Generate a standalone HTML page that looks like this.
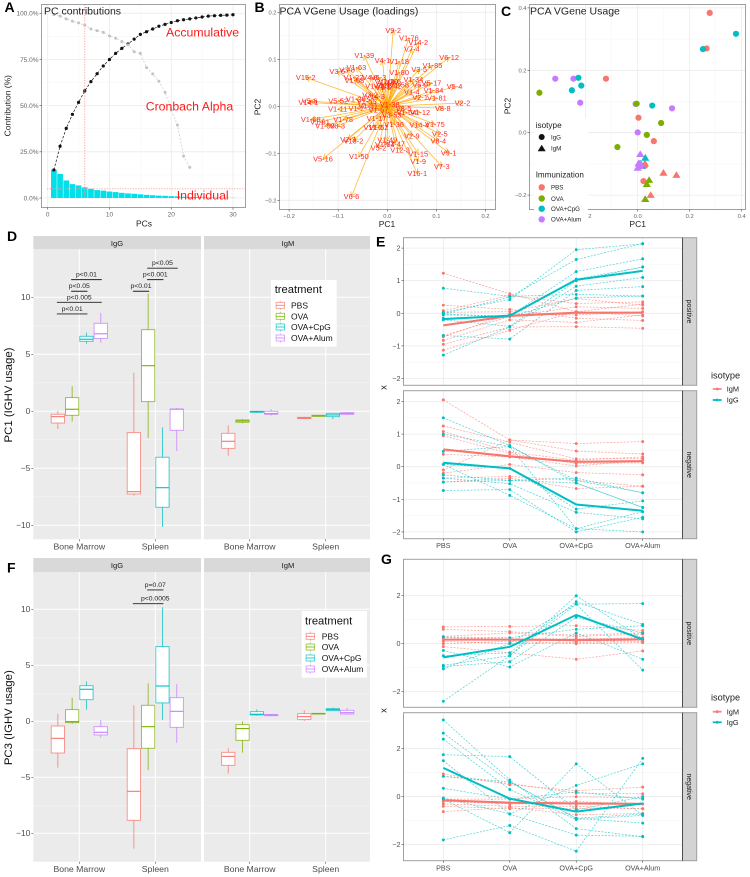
<!DOCTYPE html>
<html lang="en">
<head>
<meta charset="utf-8">
<title>PCA VGene usage figure</title>
<style>
html,body{margin:0;padding:0;background:#fff;width:750px;height:877px;overflow:hidden}
svg{display:block;filter:blur(.35px)}
text{font-family:"Liberation Sans",Arial,sans-serif}
</style>
</head>
<body>
<svg id="fig" xmlns="http://www.w3.org/2000/svg" width="750" height="877" viewBox="0 0 750 877">
<defs>
<marker id="arrow-head" markerWidth="6" markerHeight="6" refX="5" refY="3" orient="auto" markerUnits="userSpaceOnUse">
<path d="M0.5,0.5 L5,3 L0.5,5.5" fill="none" stroke="#FFA500" stroke-width=".7"/>
</marker>
</defs>

<!-- Panel A -->
<g id="panel-a">
<rect x="41.5" y="4.5" width="204" height="203" fill="#fff"/>
<g id="a-grid"></g>
<g id="a-marks"></g>
<rect x="41.5" y="4.5" width="204" height="203" fill="none" stroke="#a0a0a0" stroke-width="1"/>
<g id="a-axes"></g>
<text x="44" y="14.5" font-size="10.5" fill="#222">PC contributions</text>
<text x="166" y="36.5" font-size="12.3" fill="#ff1a1a">Accumulative</text>
<text x="145.7" y="110.5" font-size="12.3" fill="#ff1a1a">Cronbach Alpha</text>
<text x="176.7" y="199.5" font-size="12.3" fill="#ff1a1a">Individual</text>
<text transform="translate(10.5,105.7) rotate(-90)" font-size="8.5" text-anchor="middle" fill="#222">Contribution (%)</text>
<text x="144" y="226.5" font-size="8.5" text-anchor="middle" fill="#222">PCs</text>
</g>

<!-- Panel B -->
<g id="panel-b">
<rect x="279.5" y="4.5" width="216" height="205" fill="#fff"/>
<g id="b-grid"></g>
<g id="b-arrows"></g>
<g id="b-labels"></g>
<rect x="279.5" y="4.5" width="216" height="205" fill="none" stroke="#a0a0a0" stroke-width="1"/>
<g id="b-axes"></g>
<text x="279.5" y="14.5" font-size="10.5" fill="#222">PCA VGene Usage (loadings)</text>
<text transform="translate(260.5,107) rotate(-90)" font-size="8.5" text-anchor="middle" fill="#222">PC2</text>
<text x="387" y="227" font-size="8.5" text-anchor="middle" fill="#222">PC1</text>
</g>

<!-- Panel C -->
<g id="panel-c">
<rect x="529.5" y="4.5" width="216" height="205" fill="#fff"/>
<g id="c-grid"></g>
<g id="c-marks"></g>
<rect x="529.5" y="4.5" width="216" height="205" fill="none" stroke="#a0a0a0" stroke-width="1"/>
<g id="c-axes"></g>
<text x="530" y="14.5" font-size="10.5" fill="#222">PCA VGene Usage</text>
<text transform="translate(510.5,106) rotate(-90)" font-size="8.5" text-anchor="middle" fill="#222">PC2</text>
<text x="637.7" y="227" font-size="8.5" text-anchor="middle" fill="#222">PC1</text>
<g>
<rect x="534" y="118" width="54" height="106" fill="#fff"/>
<text x="535.7" y="128" font-size="8.2" fill="#222">isotype</text>
<circle cx="541.7" cy="137" r="3" fill="#111"/>
<text x="551" y="139.3" font-size="6.2" fill="#222">IgG</text>
<path d="M541.7,144.7 L545.7,151.3 L537.7,151.3 Z" fill="#111"/>
<text x="551" y="150.6" font-size="6.2" fill="#222">IgM</text>
<text x="535.7" y="177.3" font-size="8.1" fill="#222">Immunization</text>
<circle cx="541.7" cy="187.3" r="3.2" fill="#F8766D"/>
<text x="551" y="189.6" font-size="6.2" fill="#222">PBS</text>
<circle cx="541.7" cy="198.5" r="3.2" fill="#7CAE00"/>
<text x="551" y="200.8" font-size="6.2" fill="#222">OVA</text>
<circle cx="541.7" cy="208.7" r="3.2" fill="#00BFC4"/>
<text x="551" y="211" font-size="6.2" fill="#222">OVA+CpG</text>
<circle cx="541.7" cy="219.3" r="3.2" fill="#C77CFF"/>
<text x="551" y="221.6" font-size="6.2" fill="#222">OVA+Alum</text>
</g>
</g>

<!-- Panel D -->
<g id="panel-d">
<rect x="33.3" y="236" width="167.7" height="13.3" fill="#D9D9D9"/>
<rect x="204" y="236" width="166" height="13.3" fill="#D9D9D9"/>
<text x="117" y="245.8" font-size="7.6" text-anchor="middle" fill="#1A1A1A">IgG</text>
<text x="288" y="245.8" font-size="7.6" text-anchor="middle" fill="#1A1A1A">IgM</text>
<rect x="33.3" y="249.3" width="167.7" height="290" fill="#EBEBEB"/>
<rect x="204" y="249.3" width="166" height="290" fill="#EBEBEB"/>
<g id="d-grid"></g>
<g id="d-marks"></g>
<g id="d-sig"></g>
<g id="d-axes"></g>
<text transform="translate(12,395) rotate(-90)" font-size="11.4" text-anchor="middle" fill="#111">PC1 (IGHV usage)</text>
<g id="d-legend">
<rect x="271" y="280" width="65.7" height="66.7" fill="#fff"/>
<text x="274.7" y="293.2" font-size="11.2" fill="#111">treatment</text>
</g>
</g>

<!-- Panel F -->
<g id="panel-f">
<rect x="33.3" y="558" width="167.7" height="14" fill="#D9D9D9"/>
<rect x="204" y="558" width="166" height="14" fill="#D9D9D9"/>
<text x="117" y="568" font-size="7.6" text-anchor="middle" fill="#1A1A1A">IgG</text>
<text x="288" y="568" font-size="7.6" text-anchor="middle" fill="#1A1A1A">IgM</text>
<rect x="33.3" y="572" width="167.7" height="289.7" fill="#EBEBEB"/>
<rect x="204" y="572" width="166" height="289.7" fill="#EBEBEB"/>
<g id="f-grid"></g>
<g id="f-marks"></g>
<g id="f-sig"></g>
<g id="f-axes"></g>
<text transform="translate(12,717.7) rotate(-90)" font-size="11.4" text-anchor="middle" fill="#111">PC3 (IGHV usage)</text>
<g id="f-legend">
<rect x="301.7" y="611" width="65.3" height="66.7" fill="#fff"/>
<text x="305" y="624.6" font-size="11.2" fill="#111">treatment</text>
</g>
</g>

<!-- Panels E and G -->
<g id="panel-e"></g>
<g id="panel-g"></g>
<text transform="translate(386.5,387.5) rotate(-90)" font-size="9.5" text-anchor="middle" fill="#222">x</text>
<text transform="translate(386.5,710.5) rotate(-90)" font-size="9.5" text-anchor="middle" fill="#222">x</text>
<g>
<text x="711" y="378.5" font-size="9.2" fill="#222">isotype</text>
<line x1="712.7" x2="721.7" y1="389" y2="389" stroke="#F8766D" stroke-width="1.8" opacity=".85"/>
<circle cx="717.2" cy="389" r="1.4" fill="#F8766D"/>
<text x="726.7" y="391.6" font-size="7.4" fill="#222">IgM</text>
<line x1="712.7" x2="721.7" y1="400" y2="400" stroke="#00BFC4" stroke-width="1.8"/>
<circle cx="717.2" cy="400" r="1.4" fill="#00BFC4"/>
<text x="726.7" y="402.6" font-size="7.4" fill="#222">IgG</text>
</g>
<g>
<text x="711" y="700.5" font-size="9.2" fill="#222">isotype</text>
<line x1="712.7" x2="721.7" y1="711.7" y2="711.7" stroke="#F8766D" stroke-width="1.8" opacity=".85"/>
<circle cx="717.2" cy="711.7" r="1.4" fill="#F8766D"/>
<text x="726.7" y="714.3" font-size="7.4" fill="#222">IgM</text>
<line x1="712.7" x2="721.7" y1="722.3" y2="722.3" stroke="#00BFC4" stroke-width="1.8"/>
<circle cx="717.2" cy="722.3" r="1.4" fill="#00BFC4"/>
<text x="726.7" y="724.9" font-size="7.4" fill="#222">IgG</text>
</g>

<!-- Panel letters -->
<g font-weight="bold" font-size="14" fill="#000">
<text x="4.5" y="12">A</text>
<text x="254.5" y="12">B</text>
<text x="501" y="16">C</text>
<text x="7" y="241">D</text>
<text x="376" y="246.7">E</text>
<text x="7" y="572.7">F</text>
<text x="381" y="564">G</text>
</g>
</svg>

<script>
// ---------- Panel A data ----------
const individualPct = [15.3,13,9.5,7.5,6.8,5.8,5,4.3,4,3.5,3.2,2.8,2.5,2.3,2,1.7,1.5,1.3,1.2,1,0.9,0.7,0.6,0.5,0.4,0.3,0.25,0.2,0.15,0.1];
const cumulativePct = [15.2,28,37.7,45.3,51.8,58,63,67.3,71.5,75,78.3,81,83.4,86,88.6,90,91.5,93,94,95,96,96.5,97,97.5,98,98.5,98.7,98.9,99,99.2];
const cronbachAlpha = [99.3,98.5,97,95.7,94.8,93.5,91.5,90.6,89.7,87.7,86.5,84.7,82.9,79.2,78.3,70.6,67.2,63.2,57.2,47.7,39.5,22.7,16.6];
const selectedPc = [6];
const individualCutoff = [5];
const pcTicks = [0,10,20,30];
const pctTicks = [0,25,50,75,100];
const pctTickLabels = ['0.0%','25.0%','50.0%','75.0%','100.0%'];

// ---------- Panel B data ----------
const loadingGenes = ['V9-2','V1-76','V14-2','V7-4','V6-12','V1-39','V4-1','V1-18','V1-85','V1-63','V3-8','V3-6','V15-2','V1-22','V1-68','V1-80','V3-5','V1-34','V6-3','V4-8','V1-19','V1-42','V4-3','V1-72','V1-5','V2-6','V1-20','V14-3','V1-58','V5-17','V5-9','V1-84','V5-4','V1-4','V2-1','V1-81','V2-2','V8-8','V5-6','V14-1','V5-52','V1-26','V3-2','V1-55','V1-11','V1-7','V1-31','V1-67','V1-38','V8-5','V1-12','V1-64','V1-69','V1-61','V1-78','V1-59','V8-3','V1-17','V3-53','V1-75','V14-4','V2-5','V8-4','V9-1','V7-3','V2-9','V1-15','V1-9','V16-1','V12-3','V5-16','V1-50','V6-6','V2-3','V13-2','V5-2','V1-49','V1-47','V1-54','V1-36','V1-62','V11-2'];
const loadingPC1 = [0.012,0.044,0.063,0.05,0.126,-0.047,-0.01,0.024,0.092,-0.063,-0.082,-0.102,-0.166,-0.069,-0.067,0.024,0.065,0.053,-0.018,-0.035,-0.005,0.009,-0.012,-0.025,-0.008,0.012,0.002,-0.025,0.024,0.09,0.067,0.094,0.137,0.05,0.067,0.101,0.153,0.113,-0.158,-0.161,-0.1,-0.064,-0.035,-0.042,-0.101,-0.063,-0.039,-0.018,0.005,0.033,0.067,0.039,-0.156,-0.137,-0.09,-0.127,-0.102,-0.022,0.009,0.097,0.065,0.107,0.104,0.125,0.111,0.05,0.063,0.063,0.061,0.026,-0.131,-0.058,-0.073,-0.08,-0.069,-0.018,0,0.016,-0.005,0.014,-0.018,-0.029];
const loadingPC2 = [0.162,0.146,0.136,0.122,0.104,0.108,0.098,0.096,0.087,0.083,0.077,0.074,0.061,0.062,0.055,0.072,0.079,0.057,0.062,0.062,0.051,0.043,0.043,0.043,0.04,0.053,0.053,0.021,0.046,0.05,0.045,0.034,0.042,0.031,0.019,0.018,0.007,-0.004,0.011,0.008,0.012,0.016,0.024,0.01,-0.006,-0.004,0.001,-0.008,0.004,-0.004,-0.013,-0.013,-0.028,-0.033,-0.028,-0.042,-0.042,-0.026,-0.018,-0.038,-0.04,-0.059,-0.074,-0.099,-0.128,-0.063,-0.101,-0.117,-0.143,-0.093,-0.112,-0.107,-0.192,-0.07,-0.074,-0.089,-0.072,-0.08,-0.081,-0.038,-0.045,-0.045];
const bXTicks = [-0.2,-0.1,0,0.1,0.2];
const bXTickLabels = ['−0.2','−0.1','0.0','0.1','0.2'];
const bYTicks = [-0.2,-0.1,0,0.1,0.2];
const bYTickLabels = ['−0.2','−0.1','0.0','0.1','0.2'];

// ---------- Panel C data ----------
const cIgGPBS_pc1 = [0.277,0.265,-0.122,0.003,0.062,0.028,0.022];
const cIgGPBS_pc2 = [0.384,0.27,0.173,0.048,-0.027,-0.106,-0.155];
const cIgGOVA_pc1 = [-0.378,-0.004,0.09,0.035,-0.078];
const cIgGOVA_pc2 = [0.128,0.093,0.031,-0.007,-0.046];
const cIgGCpG_pc1 = [0.378,0.251,-0.228,-0.217,-0.253,0.056];
const cIgGCpG_pc2 = [0.317,0.268,0.176,0.151,0.136,0.087];
const cIgGAlum_pc1 = [-0.317,-0.247,-0.221,-0.008,0.132,0];
const cIgGAlum_pc2 = [0.173,0.173,0.096,0.092,0.078,0.001];
const cIgMPBS_pc1 = [0.099,0.149,0.05,0.028];
const cIgMPBS_pc2 = [-0.128,-0.135,-0.199,-0.098];
const cIgMOVA_pc1 = [0.044,0.035,0.029];
const cIgMOVA_pc2 = [-0.151,-0.164,-0.212];
const cIgMCpG_pc1 = [0.029,0.009,0.015];
const cIgMCpG_pc2 = [-0.08,-0.098,-0.106];
const cIgMAlum_pc1 = [0.01,0.003,0.013,0,0.009];
const cIgMAlum_pc2 = [-0.068,-0.098,-0.1,-0.112,-0.106];
const cXTicks = [-0.2,0,0.2,0.4];
const cXTickLabels = ['−0.2','0.0','0.2','0.4'];
const cYTicks = [-0.2,0,0.2,0.4];
const cYTickLabels = ['−0.2','0.0','0.2','0.4'];

// ---------- Boxplot data: each row is [min, q1, median, q3, max] for PBS, OVA, OVA+CpG, OVA+Alum ----------
const treatments = ['PBS','OVA','OVA+CpG','OVA+Alum'];
const tissues = ['Bone Marrow','Spleen'];
const pc1IgGBoneMarrow = [[-1.55,-1.03,-0.47,-0.26,0.03],[-0.9,-0.35,0.18,1.2,2.2],[5.93,6.14,6.32,6.58,6.9],[6.02,6.4,6.8,7.72,8.63]];
const pc1IgGSpleen = [[-7.4,-7.25,-7.05,-1.87,3.39],[-2.34,0.85,4.0,7.16,10.3],[-10.15,-8.42,-6.7,-4.03,-1.4],[-3.48,-1.67,0.18,0.2,0.29]];
const pc1IgMBoneMarrow = [[-3.9,-3.25,-2.63,-1.93,-1.23],[-1.05,-0.96,-0.85,-0.76,-0.67],[-0.15,-0.09,-0.03,0,0.03],[-0.38,-0.26,-0.2,0,0.18]];
const pc1IgMSpleen = [[-0.67,-0.64,-0.58,-0.53,-0.47],[-0.47,-0.44,-0.41,-0.35,-0.32],[-0.7,-0.47,-0.32,-0.18,-0.15],[-0.29,-0.26,-0.2,-0.12,-0.06]];
const pc3IgGBoneMarrow = [[-4.14,-2.83,-1.52,-0.42,0.68],[-0.24,-0.12,-0.03,1.04,2.11],[1.04,1.93,2.86,3.18,3.57],[-1.46,-1.22,-0.98,-0.48,0.12]];
const pc3IgGSpleen = [[-11.37,-8.84,-6.25,-2.44,1.43],[-4.35,-2.41,-0.48,1.43,3.39],[0.12,1.64,3.15,6.67,10.18],[-1.93,-0.54,0.89,2.11,3.33]];
const pc3IgMBoneMarrow = [[-4.67,-3.93,-3.13,-2.77,-2.41],[-2.8,-1.7,-0.65,-0.3,0],[0.5,0.57,0.63,0.86,1.07],[0.48,0.5,0.57,0.6,0.65]];
const pc3IgMSpleen = [[0.03,0.15,0.42,0.68,0.98],[0.62,0.65,0.68,0.71,0.74],[0.92,0.95,1.04,1.13,1.22],[0.62,0.65,0.77,0.98,1.19]];
const boxYTicks = [-10,-5,0,5,10];
const boxYTickLabels = ['−10','−5','0','5','10'];

const dSigLabels = ['p<0.01','p<0.005','p<0.05','p<0.01','p<0.01','p<0.001','p<0.05'];
const dSigValue = [8.54,9.56,10.53,11.55,10.53,11.55,12.55];
const dSigTissue = [0,0,0,0,1,1,1];
const dSigFrom = [0,0,1,1,0,1,1];
const dSigTo = [2,3,2,3,1,2,3];
const dSigLabelAt = [1,1.5,1.5,2,0.5,1.5,2];
const fSigLabels = ['p<0.0005','p=0.07'];
const fSigValue = [10.5,11.73];
const fSigTissue = [1,1];
const fSigFrom = [0,1];
const fSigTo = [2,2];
const fSigLabelAt = [1.5,1.5];

// ---------- Line panel data: PBS, OVA, OVA+CpG, OVA+Alum ----------
const ePositiveIgG = [[0.77,0.52,0.58,0.53],[0.03,0.42,1.95,2.13],[-0.02,0.5,1.65,2.14],[-0.05,-0.08,1.28,1.67],[-0.15,-0.06,1.05,1.42],[-0.2,-0.4,1.0,1.42],[-1.28,-0.42,0.83,1.1],[-0.68,-0.79,0.7,0.82],[-0.02,-0.1,0.47,0.53]];
const ePositiveIgM = [[1.23,0.6,0.05,-0.08],[0.25,0.12,-0.15,-0.22],[0.08,0.55,0.3,0.35],[0.03,0.05,0.45,0.25],[-0.68,-0.1,0.2,0.15],[-0.72,-0.02,-0.05,0.05],[-0.83,-0.2,-0.28,-0.05],[-0.95,-0.42,-0.41,-0.46],[-1.13,-0.52,0.05,0.28]];
const ePositiveIgGMean = [-0.18,-0.07,1.03,1.3];
const ePositiveIgMMean = [-0.37,-0.08,0.02,0.02];
const eNegativeIgG = [[1.5,0.65,-0.5,-1.25],[1.0,0.62,-0.42,-0.8],[0.47,0.62,-1.9,-1.38],[0.07,-0.05,-1.3,-1.05],[-0.25,-0.42,-0.35,-0.8],[-0.35,-0.52,-1.4,-1.6],[-0.47,-0.42,-0.5,-1.25],[-0.73,-0.7,-2.0,-1.55],[0.07,-0.88,-1.9,-2.0]];
const eNegativeIgM = [[2.05,0.82,0.48,0.39],[1.25,0.75,0.24,0.25],[1.08,0.45,0.2,0.3],[0.95,0.4,0.1,0.12],[0.38,0.3,0.02,0.2],[-0.1,0.82,0.71,0.77],[-0.2,0.07,-0.18,-0.25],[-0.35,-0.3,-0.42,-0.6],[-0.47,-0.35,-0.67,-0.6]];
const eNegativeIgGMean = [0.12,-0.05,-1.16,-1.35];
const eNegativeIgMMean = [0.53,0.32,0.15,0.17];
const gPositiveIgG = [[0.28,0.25,0.6,0.75],[-0.28,-0.97,0.45,-0.65],[-0.5,-0.38,1.75,0.8],[-0.9,-0.5,1.65,1.67],[-0.95,-0.75,1.1,0.45],[-1.05,0.02,1.65,-1.1],[-2.4,-0.5,2.0,0.2]];
const gPositiveIgM = [[0.7,0.72,0.75,0.55],[0.6,0.5,0.35,0.45],[0.3,0.45,0.3,0.4],[0.25,0.2,0.2,0.25],[0.15,0.2,0.1,0.15],[0.1,0,0.05,0.1],[0,0.1,0,0.05],[-0.12,-0.38,-0.65,-0.3]];
const gPositiveIgGMean = [-0.57,-0.13,1.2,0.18];
const gPositiveIgMMean = [0.17,0.17,0.15,0.18];
const gNegativeIgG = [[3.2,0.7,-1.33,-1.67],[2.65,0.62,-0.9,-0.72],[2.4,0.3,-0.95,-0.78],[1.75,1.67,-0.55,0],[1.5,-0.72,-1.6,-1.65],[0.85,0.62,-0.9,-1.1],[0.35,-0.1,0.2,-0.1],[-0.1,-1.5,1.37,-0.78],[-1.8,-1.2,-2.27,1.6],[-0.05,-0.72,0.47,1.37]];
const gNegativeIgM = [[0.95,0.5,0.25,0.4],[0.85,0.55,0.15,0.12],[-0.1,-0.1,0,-0.05],[-0.15,-0.25,-0.2,-0.3],[-0.2,-0.3,-0.3,-0.3],[-0.3,-0.4,-0.4,-0.5],[-0.4,-0.5,-0.5,-0.5],[-0.62,-0.45,-0.75,-0.7]];
const gNegativeIgGMean = [1.2,-0.08,-0.62,-0.28];
const gNegativeIgMMean = [-0.15,-0.25,-0.28,-0.3];
const eYTicks = [-2,-1,0,1,2];
const eYTickLabels = ['−2','−1','0','1','2'];
const gYTicks = [-2,0,2];
const gYTickLabels = ['−2','0','2'];

// ---------- Helpers ----------
const NS = 'http://www.w3.org/2000/svg';
const CORAL = '#F8766D', GREEN = '#7CAE00', TEAL = '#00BFC4', PURPLE = '#C77CFF';
const treatmentColors = [CORAL, GREEN, TEAL, PURPLE];

function mk(parent, tag, attrs, txt) {
  const el = document.createElementNS(NS, tag);
  for (const k in attrs) el.setAttribute(k, attrs[k]);
  if (txt !== undefined) el.textContent = txt;
  parent.appendChild(el);
  return el;
}
function linear(d0, r0, d1, r1) {
  return v => r0 + (v - d0) * (r1 - r0) / (d1 - d0);
}
function byId(id) { return document.getElementById(id); }
function polyline(xs, ys) {
  return xs.map((x, i) => x.toFixed(2) + ',' + ys[i].toFixed(2)).join(' ');
}

function gridV(g, ticks, sx, y0, y1, color, w) {
  ticks.forEach(t => {
    const el = mk(g, 'line', {x1: sx(t), x2: sx(t), y1: y0, y2: y1, stroke: color, 'stroke-width': w});
    
    
  });
}
function gridH(g, ticks, sy, x0, x1, color, w) {
  ticks.forEach(t => {
    const el = mk(g, 'line', {x1: x0, x2: x1, y1: sy(t), y2: sy(t), stroke: color, 'stroke-width': w});
    
    
  });
}
function midpoints(ticks) {
  const out = [];
  for (let i = 0; i < ticks.length - 1; i++) out.push((ticks[i] + ticks[i + 1]) / 2);
  return out;
}
function axisY(g, ticks, labels, sy, x, size, tickLen, color) {
  ticks.forEach((t, i) => {
    const m = mk(g, 'line', {x1: x - tickLen, x2: x, y1: sy(t), y2: sy(t), stroke: '#444', 'stroke-width': .6});
    
    
    const l = mk(g, 'text', {x: x - tickLen - 1, y: sy(t), dy: '.35em', 'text-anchor': 'end', 'font-size': size, fill: color}, labels[i]);
    
    
  });
}
function axisX(g, ticks, labels, sx, y, size, tickLen, color, labelOffset) {
  ticks.forEach((t, i) => {
    const m = mk(g, 'line', {x1: sx(t), x2: sx(t), y1: y, y2: y + tickLen, stroke: '#444', 'stroke-width': .6});
    
    
    const l = mk(g, 'text', {x: sx(t), y: y + labelOffset, dy: '.35em', 'text-anchor': 'middle', 'font-size': size, fill: color}, labels[i]);
    
    
  });
}

// ---------- Panel A ----------
(function () {
  const sx = linear(0, 47.7, 30, 233);
  const sy = linear(0, 198, 100, 13.3);
  const grid = byId('a-grid'), marks = byId('a-marks'), axes = byId('a-axes');
  gridV(grid, midpoints(pcTicks), sx, 4.5, 207.5, '#f4f4f4', .5);
  gridH(grid, midpoints(pctTicks), sy, 41.5, 245.5, '#f4f4f4', .5);
  gridV(grid, pcTicks, sx, 4.5, 207.5, '#ebebeb', .8);
  gridH(grid, pctTicks, sy, 41.5, 245.5, '#ebebeb', .8);

  individualPct.forEach((v, i) => {
    const x = sx(i + 1);
    const b = mk(marks, 'rect', {x: x - 2.85, y: sy(v), width: 5.7, height: sy(0) - sy(v), fill: '#00E0EA'});
    
    
  });
  const cumX = cumulativePct.map((v, i) => sx(i + 1));
  const cumY = cumulativePct.map(v => sy(v));
  const cl = mk(marks, 'polyline', {points: polyline(cumX, cumY), fill: 'none', stroke: '#111', 'stroke-width': .7, 'stroke-dasharray': '2.5 1.6'});
  
  
  cumulativePct.forEach((v, i) => {
    const c = mk(marks, 'circle', {cx: sx(i + 1), cy: sy(v), r: 1.6, fill: '#111'});
    
    
  });
  const alX = cronbachAlpha.map((v, i) => sx(i + 1));
  const alY = cronbachAlpha.map(v => sy(v));
  const al = mk(marks, 'polyline', {points: polyline(alX, alY), fill: 'none', stroke: '#c8c8c8', 'stroke-width': .7, 'stroke-dasharray': '2 1.6'});
  
  
  cronbachAlpha.forEach((v, i) => {
    const c = mk(marks, 'circle', {cx: sx(i + 1), cy: sy(v), r: 1.5, fill: '#c4c4c4'});
    
    
  });
  selectedPc.forEach(v => {
    const l = mk(marks, 'line', {x1: sx(v), x2: sx(v), y1: 4.5, y2: sy(0), stroke: '#ff9a9a', 'stroke-width': .9, 'stroke-dasharray': '1.2 1.4'});
    
    
  });
  individualCutoff.forEach(v => {
    const l = mk(marks, 'line', {x1: 47, x2: 245.5, y1: sy(v), y2: sy(v), stroke: '#ff9a9a', 'stroke-width': .9, 'stroke-dasharray': '1.2 1.4'});
    
    
  });
  axisY(axes, pctTicks, pctTickLabels, sy, 41.5, 6.5, 2, '#666');
  axisX(axes, pcTicks, pcTicks.map(String), sx, 207.5, 6.5, 2, '#666', 6.5);
})();

// ---------- Panel B ----------
(function () {
  const sx = linear(0, 387.3, 0.1, 436.4);
  const sy = linear(0, 106.3, 0.1, 59.3);
  const grid = byId('b-grid'), arrows = byId('b-arrows'), labels = byId('b-labels'), axes = byId('b-axes');
  gridV(grid, midpoints(bXTicks), sx, 4.5, 209.5, '#f4f4f4', .5);
  gridH(grid, midpoints(bYTicks), sy, 279.5, 495.5, '#f4f4f4', .5);
  gridV(grid, bXTicks, sx, 4.5, 209.5, '#ebebeb', .8);
  gridH(grid, bYTicks, sy, 279.5, 495.5, '#ebebeb', .8);
  loadingGenes.forEach((gene, i) => {
    const a = mk(arrows, 'line', {x1: sx(0), y1: sy(0), x2: sx(loadingPC1[i]), y2: sy(loadingPC2[i]), stroke: '#FFA500', 'stroke-width': .75, 'stroke-opacity': .8, 'marker-end': 'url(#arrow-head)'});
    
    
    const t = mk(labels, 'text', {x: sx(loadingPC1[i]), y: sy(loadingPC2[i]), dy: '.35em', 'text-anchor': 'middle', 'font-size': 7.4, fill: '#ff1a1a', 'fill-opacity': .95}, gene);
    
    
  });
  axisY(axes, bYTicks, bYTickLabels, sy, 279.5, 5.8, 2, '#666');
  axisX(axes, bXTicks, bXTickLabels, sx, 209.5, 5.8, 2, '#666', 6.3);
})();

// ---------- Panel C ----------
(function () {
  const sx = linear(0, 637.7, 0.2, 689.7);
  const sy = linear(0, 132.7, 0.2, 70.3);
  const grid = byId('c-grid'), marks = byId('c-marks'), axes = byId('c-axes');
  gridV(grid, midpoints(cXTicks), sx, 4.5, 209.5, '#f4f4f4', .5);
  gridH(grid, midpoints(cYTicks), sy, 529.5, 745.5, '#f4f4f4', .5);
  gridV(grid, cXTicks, sx, 4.5, 209.5, '#ebebeb', .8);
  gridH(grid, cYTicks, sy, 529.5, 745.5, '#ebebeb', .8);
  function circles(xs, ys, color) {
    xs.forEach((v, i) => {
      const c = mk(marks, 'circle', {cx: sx(v), cy: sy(ys[i]), r: 3.1, fill: color});
      
      
    });
  }
  function triangles(xs, ys, color) {
    xs.forEach((v, i) => {
      const x = sx(v), y = sy(ys[i]);
      const p = mk(marks, 'path', {d: `M${x},${y - 3.6} L${x + 4.1},${y + 3.1} L${x - 4.1},${y + 3.1} Z`, fill: color});
      
      
    });
  }
  circles(cIgGPBS_pc1, cIgGPBS_pc2, CORAL);
  circles(cIgGAlum_pc1, cIgGAlum_pc2, PURPLE);
  circles(cIgGOVA_pc1, cIgGOVA_pc2, GREEN);
  circles(cIgGCpG_pc1, cIgGCpG_pc2, TEAL);
  triangles(cIgMPBS_pc1, cIgMPBS_pc2, CORAL);
  triangles(cIgMOVA_pc1, cIgMOVA_pc2, GREEN);
  triangles(cIgMCpG_pc1, cIgMCpG_pc2, TEAL);
  triangles(cIgMAlum_pc1, cIgMAlum_pc2, PURPLE);
  axisY(axes, cYTicks, cYTickLabels, sy, 529.5, 5.8, 2, '#666');
  axisX(axes, cXTicks, cXTickLabels, sx, 209.5, 5.8, 2, '#666', 6.3);
})();

// ---------- Panels D, F ----------
function drawBoxes(gridEl, marks, axes, sy, panelTop, panelBottom, bm, sp, mbm, msp, labelY) {
  const panels = [{x0: 33.3, x1: 201, cats: [79.3, 155.3], groups: [bm, sp]},
                  {x0: 204, x1: 370, cats: [249.7, 325.7], groups: [mbm, msp]}];
  panels.forEach(p => {
    gridH(gridEl, midpoints(boxYTicks), sy, p.x0, p.x1, '#f6f6f6', .5);
    gridH(gridEl, boxYTicks, sy, p.x0, p.x1, '#fff', 1);
    p.cats.forEach((cx, ci) => {
      const v = mk(gridEl, 'line', {x1: cx, x2: cx, y1: panelTop, y2: panelBottom, stroke: '#fff', 'stroke-width': 1});
      
      
      p.groups[ci].forEach((row, t) => {
        const x = cx + (t - 1.5) * 14.3, w = 13.3, col = treatmentColors[t];
        const wh = mk(marks, 'line', {x1: x, x2: x, y1: sy(row[0]), y2: sy(row[4]), stroke: col, 'stroke-width': .9, 'stroke-opacity': .8});
        
        
        const r = mk(marks, 'rect', {x: x - w / 2, y: sy(row[3]), width: w, height: Math.max(sy(row[1]) - sy(row[3]), .3), fill: '#fff', stroke: col, 'stroke-width': .9, 'stroke-opacity': .8});
        
        
        const md = mk(marks, 'line', {x1: x - w / 2, x2: x + w / 2, y1: sy(row[2]), y2: sy(row[2]), stroke: col, 'stroke-width': 1.1});
        
        
      });
      const tm = mk(axes, 'line', {x1: cx, x2: cx, y1: panelBottom, y2: panelBottom + 2, stroke: '#444', 'stroke-width': .6});
      
      
      const tl = mk(axes, 'text', {x: cx, y: labelY, dy: '.35em', 'text-anchor': 'middle', 'font-size': 8.7, fill: '#4D4D4D'}, tissues[ci]);
      
      
    });
  });
  axisY(axes, boxYTicks, boxYTickLabels, sy, 33.3, 8.4, 2, '#4D4D4D');
}
function drawSig(g, sy, labels, values, tissue, from, to, labelAt) {
  const cats = [79.3, 155.3];
  const px = (c, t) => cats[c] + (t - 1.5) * 14.3;
  labels.forEach((lab, i) => {
    const y = sy(values[i]);
    const l = mk(g, 'line', {x1: px(tissue[i], from[i]) - 1, x2: px(tissue[i], to[i]) + 1, y1: y, y2: y, stroke: '#222', 'stroke-width': .9});
    
    
    const t = mk(g, 'text', {x: px(tissue[i], labelAt[i]), y: y - 5.4, dy: '.35em', 'text-anchor': 'middle', 'font-size': 6.8, fill: '#222'}, lab);
    
    
  });
}
function drawBoxLegend(g, keyX, textX, ys) {
  treatments.forEach((name, i) => {
    const y = ys[i], col = treatmentColors[i];
    const wh = mk(g, 'line', {x1: keyX, x2: keyX, y1: y - 4.6, y2: y + 4.6, stroke: col, 'stroke-width': .8, 'stroke-opacity': .7});
    
    
    const r = mk(g, 'rect', {x: keyX - 4.2, y: y - 3, width: 8.4, height: 6, fill: '#fff', stroke: col, 'stroke-width': .8, 'stroke-opacity': .8});
    
    
    const m = mk(g, 'line', {x1: keyX - 4.2, x2: keyX + 4.2, y1: y, y2: y, stroke: col, 'stroke-width': .8});
    
    
    const t = mk(g, 'text', {x: textX, y: y, dy: '.35em', 'font-size': 8.5, fill: '#111'}, name);
    
    
  });
}
const syD = linear(0, 411.3, 10, 297.3);
const syF = linear(0, 721.3, 10, 609.3);
drawBoxes(byId('d-grid'), byId('d-marks'), byId('d-axes'), syD, 249.3, 539.3, pc1IgGBoneMarrow, pc1IgGSpleen, pc1IgMBoneMarrow, pc1IgMSpleen, 546.7);
drawBoxes(byId('f-grid'), byId('f-marks'), byId('f-axes'), syF, 572, 861.7, pc3IgGBoneMarrow, pc3IgGSpleen, pc3IgMBoneMarrow, pc3IgMSpleen, 869);
drawSig(byId('d-sig'), syD, dSigLabels, dSigValue, dSigTissue, dSigFrom, dSigTo, dSigLabelAt);
drawSig(byId('f-sig'), syF, fSigLabels, fSigValue, fSigTissue, fSigFrom, fSigTo, fSigLabelAt);
drawBoxLegend(byId('d-legend'), 280.3, 291, [305.3, 316.3, 327, 338]);
drawBoxLegend(byId('f-legend'), 310.3, 321.7, [636.3, 647, 658, 669]);

// ---------- Panels E, G ----------
const catX = linear(0, 443.3, 3, 642.7);
function drawLinePanel(root, top, bottom, zeroY, unit, ticks, tickLabels, igm, igg, igmMean, iggMean, stripLabel, showX, xLabelY) {
  const sy = v => zeroY - v * unit;
  const left = 403.5, right = 682.5, strip = 696.7;
  const g = mk(root, 'g', {});
  
  
  const bg = mk(g, 'rect', {x: left, y: top, width: right - left, height: bottom - top, fill: '#fff'});
  
  
  const minor = midpoints(ticks);
  gridH(g, minor, sy, left, right, '#f4f4f4', .5);
  gridH(g, ticks, sy, left, right, '#ebebeb', .8);
  gridV(g, [0, 1, 2, 3], catX, top, bottom, '#ebebeb', .8);

  function series(rows, color, nameLine, namePoint) {
    rows.forEach(row => {
      const xs = row.map((v, i) => catX(i)), ys = row.map(v => sy(v));
      const l = mk(g, 'polyline', {points: polyline(xs, ys), fill: 'none', stroke: color, 'stroke-width': .7, 'stroke-opacity': .7, 'stroke-dasharray': '2 1.4'});
      
      
      row.forEach((v, i) => {
        const c = mk(g, 'circle', {cx: catX(i), cy: sy(v), r: 1.45, fill: color});
        
        
      });
    });
  }
  series(igm, CORAL, 'igm-sample-line', 'igm-sample-point');
  series(igg, TEAL, 'igg-sample-line', 'igg-sample-point');
  function mean(row, color, name, width) {
    const xs = row.map((v, i) => catX(i)), ys = row.map(v => sy(v));
    const l = mk(g, 'polyline', {points: polyline(xs, ys), fill: 'none', stroke: color, 'stroke-width': width});
    
    
  }
  mean(igmMean, CORAL, 'igm-mean-line', 2.1);
  mean(iggMean, TEAL, 'igg-mean-line', 2);

  const st = mk(g, 'rect', {x: right, y: top, width: strip - right, height: bottom - top, fill: '#D3D3D3', stroke: '#a0a0a0', 'stroke-width': 1});
  
  
  const bd = mk(g, 'rect', {x: left, y: top, width: right - left, height: bottom - top, fill: 'none', stroke: '#a0a0a0', 'stroke-width': 1});
  
  
  const div = mk(g, 'line', {x1: right, x2: right, y1: top, y2: bottom, stroke: '#444', 'stroke-width': .9});
  
  
  const cy = (top + bottom) / 2;
  const lab = mk(g, 'text', {transform: `translate(689.6,${cy}) rotate(90)`, dy: '.35em', 'text-anchor': 'middle', 'font-size': 7, fill: '#1A1A1A'}, stripLabel);
  
  

  axisY(g, ticks, tickLabels, sy, left, 7.2, 2, '#4D4D4D');
  if (showX) axisX(g, [0, 1, 2, 3], treatments, catX, bottom, 7.2, 2, '#4D4D4D', xLabelY - bottom);
}
const rootE = byId('panel-e'), rootG = byId('panel-g');
drawLinePanel(rootE, 237.7, 385.3, 313.3, 32.6, eYTicks, eYTickLabels, ePositiveIgM, ePositiveIgG, ePositiveIgMMean, ePositiveIgGMean, 'positive', false, 0);
drawLinePanel(rootE, 390.7, 538.7, 466.7, 32.6, eYTicks, eYTickLabels, eNegativeIgM, eNegativeIgG, eNegativeIgMMean, eNegativeIgGMean, 'negative', true, 545.7);
drawLinePanel(rootG, 559.3, 707.3, 643.7, 24, gYTicks, gYTickLabels, gPositiveIgM, gPositiveIgG, gPositiveIgMMean, gPositiveIgGMean, 'positive', false, 0);
drawLinePanel(rootG, 712.7, 860.7, 796.7, 24, gYTicks, gYTickLabels, gNegativeIgM, gNegativeIgG, gNegativeIgMMean, gNegativeIgGMean, 'negative', true, 868);
</script>
</body>
</html>
